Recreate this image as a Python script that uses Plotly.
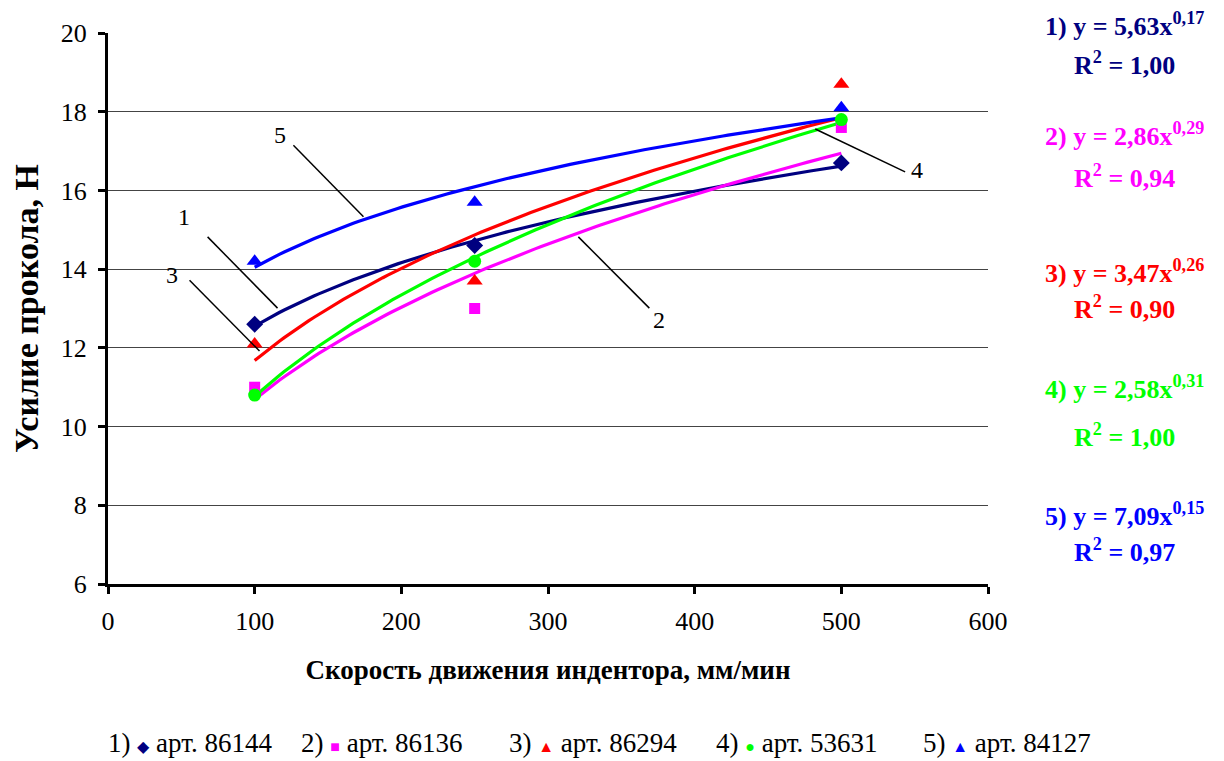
import numpy as np
import plotly.graph_objects as go

# ---------------- data ----------------
speed = [100, 250, 500]
series_names = ["арт. 86144", "арт. 86136", "арт. 86294", "арт. 53631", "арт. 84127"]
force_1 = [12.6, 14.6, 16.7]
force_2 = [11.0, 13.0, 17.6]
force_3 = [12.1, 13.7, 18.7]
force_4 = [10.8, 14.2, 17.8]
force_5 = [14.2, 15.7, 18.1]
equations = ["1) y = 5,63x<sup>0,17</sup>", "2) y = 2,86x<sup>0,29</sup>",
             "3) y = 3,47x<sup>0,26</sup>", "4) y = 2,58x<sup>0,31</sup>",
             "5) y = 7,09x<sup>0,15</sup>"]
r2_labels = ["R<sup>2</sup> = 1,00", "R<sup>2</sup> = 0,94", "R<sup>2</sup> = 0,90",
             "R<sup>2</sup> = 1,00", "R<sup>2</sup> = 0,97"]
x_ticks = [0, 100, 200, 300, 400, 500, 600]
y_ticks = [6, 8, 10, 12, 14, 16, 18, 20]

# ---------------- style ----------------
colors = ["#000080", "#FF00FF", "#FF0000", "#00FF00", "#0000FF"]
symbols = ["diamond", "square", "triangle-up", "circle", "triangle-up"]
msizes = [13, 11, 14, 13, 14]
glyphs = ["◆", "■", "▲", "●", "▲"]
FONT = "Liberation Serif, Times New Roman, serif"

# page has an 8px body margin -> figure is 8px smaller and offset
OFF = 8
FW, FH = 1224 - OFF, 761 - OFF
L, R, T, B = 108 - OFF, 988 - OFF, 33 - OFF, 584 - OFF
W, H = R - L, B - T
def px(x):
    return (x - OFF - L) / W
def py(y):
    return (B - (y - OFF)) / H

fig = go.Figure()
all_series = [force_1, force_2, force_3, force_4, force_5]

# power trend lines (least squares in log space, like a spreadsheet power trendline)
for vals, col in zip(all_series, colors):
    b, lna = np.polyfit(np.log(speed), np.log(vals), 1)
    xs = np.linspace(min(speed), max(speed), 120)
    fig.add_trace(go.Scatter(x=xs, y=np.exp(lna) * xs ** b, mode="lines",
                             line=dict(color=col, width=3.2), showlegend=False,
                             hoverinfo="skip"))

for vals, col, sym, ms, name in zip(all_series, colors, symbols, msizes, series_names):
    fig.add_trace(go.Scatter(x=speed, y=vals, mode="markers", name=name,
                             marker=dict(color=col, symbol=sym, size=ms,
                                         line=dict(width=0)),
                             showlegend=False))

# leader lines with curve numbers (data coordinates)
leaders = [
    ("1", (67.9, 14.82), (115.6, 13.01), (51.5, 15.33)),
    ("2", (320.7, 14.82), (369.1, 13.01), (375.9, 12.70)),
    ("3", (55.6, 13.72), (103.3, 11.92), (43.3, 13.85)),
    ("4", (482.2, 17.56), (543.5, 16.47), (551.7, 16.52)),
    ("5", (126.4, 17.15), (174.2, 15.33), (117.5, 17.41)),
]
for lab, p0, p1, pl in leaders:
    fig.add_shape(type="line", xref="x", yref="y", x0=p0[0], y0=p0[1],
                  x1=p1[0], y1=p1[1], line=dict(color="black", width=1.5))
    fig.add_annotation(x=pl[0], y=pl[1], xref="x", yref="y", text=lab,
                       showarrow=False, font=dict(family=FONT, size=24, color="black"))

eq_y = [24, 135, 271, 388, 514]
r2_y = [64, 176, 307, 436, 550]
for eq, r2, col, ye, yr in zip(equations, r2_labels, colors, eq_y, r2_y):
    fig.add_annotation(x=px(1124), y=py(ye), xref="paper", yref="paper", text=f"<b>{eq}</b>",
                       showarrow=False, xanchor="center", yanchor="middle",
                       font=dict(family=FONT, size=26, color=col))
    fig.add_annotation(x=px(1124), y=py(yr), xref="paper", yref="paper", text=f"<b>{r2}</b>",
                       showarrow=False, xanchor="center", yanchor="middle",
                       font=dict(family=FONT, size=26, color=col))

# bottom legend as text
leg_x = [106, 299, 507, 714, 921]
for i, (name, col, g, lx) in enumerate(zip(series_names, colors, glyphs, leg_x)):
    txt = f"{i+1}) <span style='color:{col};font-size:16px'>{g}</span> {name}"
    fig.add_annotation(x=px(lx), y=py(743), xref="paper", yref="paper", text=txt,
                       showarrow=False, xanchor="left", yanchor="middle",
                       font=dict(family=FONT, size=27, color="black"))

fig.update_layout(
    width=FW, height=FH,
    margin=dict(l=L, r=FW - R, t=T, b=FH - B, pad=0),
    paper_bgcolor="white", plot_bgcolor="white",
    font=dict(family=FONT, size=26, color="black"),
    showlegend=False,
)
fig.update_xaxes(range=[0, 600], tickvals=x_ticks, ticks="outside", ticklen=7, tickwidth=3,
                 tickcolor="black", showline=True, linecolor="black", linewidth=3,
                 showgrid=False, zeroline=False, tickfont=dict(family=FONT, size=26),
                 ticklabelstandoff=5,
                 title=dict(text="Скорость движения индентора, мм/мин", standoff=25,
                            font=dict(family=FONT, size=27, weight="bold")))
fig.update_yaxes(range=[6, 20], tickvals=y_ticks, ticks="outside", ticklen=7, tickwidth=3,
                 tickcolor="black", showline=True, linecolor="black", linewidth=3,
                 showgrid=True, gridcolor="#444444", gridwidth=1, zeroline=False,
                 tickfont=dict(family=FONT, size=26), ticklabelstandoff=6,
                 title=dict(text="Усилие прокола, Н", standoff=15,
                            font=dict(family=FONT, size=34, weight="bold")))

fig.write_html("out.html")
